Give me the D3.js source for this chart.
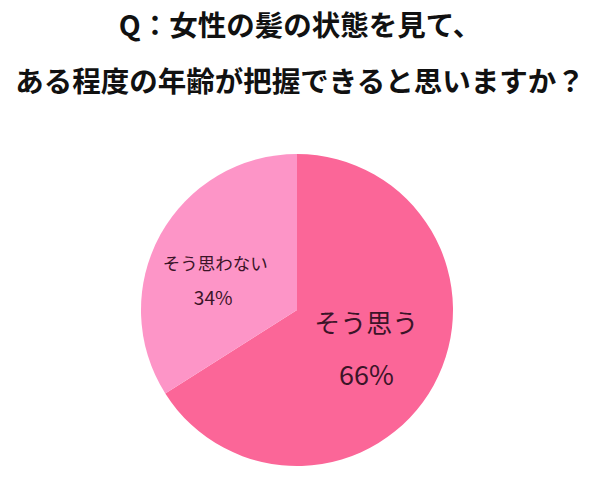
<!DOCTYPE html>
<html>
<head>
<meta charset="utf-8">
<script src="https://cdn.jsdelivr.net/npm/d3@7"></script>
<style>
  html, body { margin: 0; padding: 0; background: #fff; }
  svg { display: block; }
</style>
</head>
<body>
<svg id="chart"></svg>
<script>
// data
const titleLines = ['Q：女性の髪の状態を見て、', 'ある程度の年齢が把握できると思いますか？'];
const categories = ['そう思う', 'そう思わない'];
const values = [66, 34];
const colors = ['#fb6698', '#fd95c7'];

const width = 600, height = 504;
const cx = 297, cy = 310, radius = 156;

const svg = d3.select('#chart')
  .attr('width', width)
  .attr('height', height)
  .attr('viewBox', `0 0 ${width} ${height}`);

const font = '"Noto Sans CJK JP", "Noto Sans", sans-serif';

// title
svg.selectAll('text.title')
  .data(titleLines)
  .enter()
  .append('text')
  .attr('class', 'title')
  .attr('x', 300)
  .attr('y', (d, i) => [36, 92][i])
  .attr('text-anchor', 'middle')
  .attr('font-family', font)
  .attr('font-weight', 'bold')
  .attr('font-size', 28.5)
  .attr('fill', '#111')
  .text(d => d);

const data = categories.map((name, i) => ({ name, value: values[i] }));

const pie = d3.pie()
  .sort(null)
  .value(d => d.value);

const arc = d3.arc()
  .innerRadius(0)
  .outerRadius(radius);

const g = svg.append('g')
  .attr('transform', `translate(${cx} ${cy})`);

const arcs = pie(data);

g.selectAll('path')
  .data(arcs)
  .enter()
  .append('path')
  .attr('d', arc)
  .attr('fill', (d, i) => colors[i]);

// labels, size differs per slice like the original
const labelArc = d3.arc().innerRadius(radius * 0.5).outerRadius(radius * 0.5);
const labelStyle = [
  { size: 26, pct: 27, dx: 1, nameDy: -14.5, pctDy: 37.5 },
  { size: 17.5, pct: 19, dx: -13.5, nameDy: -2, pctDy: 32.5 }
];

arcs.forEach((d, i) => {
  const [lx, ly] = labelArc.centroid(d);
  const s = labelStyle[i];
  const x = lx + s.dx;
  g.append('text')
    .attr('x', x)
    .attr('y', ly + s.nameDy)
    .attr('text-anchor', 'middle')
    .attr('font-family', font)
    .attr('font-size', s.size)
    .attr('fill', '#3b1428')
    .text(d.data.name);
  g.append('text')
    .attr('x', i === 1 ? x - 2 : x)
    .attr('y', ly + s.pctDy)
    .attr('text-anchor', 'middle')
    .attr('font-family', font)
    .attr('font-size', s.pct)
    .attr('fill', '#3b1428')
    .text(d.data.value + '%');
});
</script>
</body>
</html>
